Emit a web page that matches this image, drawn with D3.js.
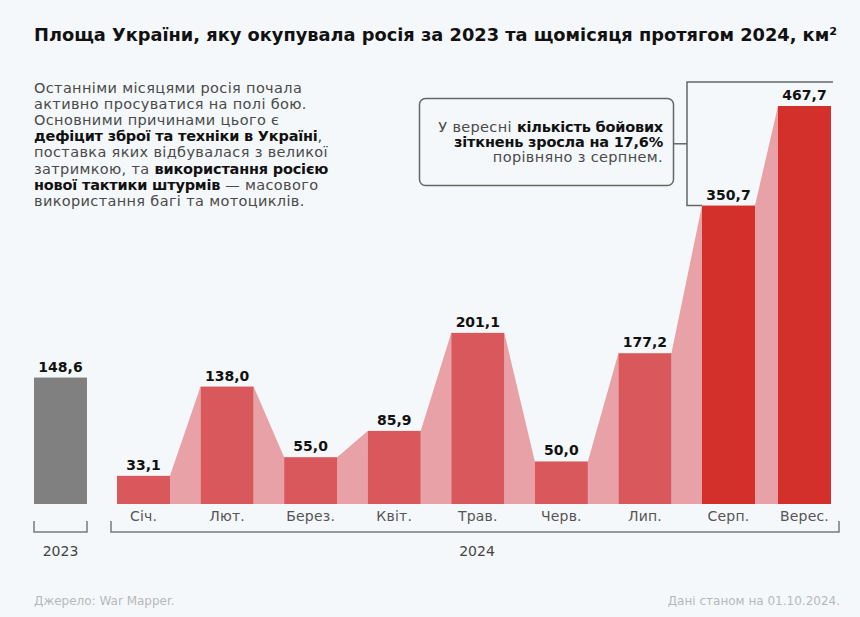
<!DOCTYPE html>
<html><head><meta charset="utf-8">
<script src="https://cdn.jsdelivr.net/npm/d3@7"></script>
<style>
html,body{margin:0;padding:0;background:#f5f8fa;}
svg{display:block;font-family:"DejaVu Sans","Noto Sans",sans-serif;}
</style></head>
<body>
<svg id="c" width="860" height="617"></svg>
<script>
const titleText = "Площа України, яку окупувала росія за 2023 та щомісяця протягом 2024, км²";
const prevYearLabel = "2023";
const prevYearValue = 148.6;
const yearLabel = "2024";
const months = ["Січ.","Лют.","Берез.","Квіт.","Трав.","Черв.","Лип.","Серп.","Верес."];
const values = [33.1,138.0,55.0,85.9,201.1,50.0,177.2,350.7,467.7];
const highlighted = ["Серп.","Верес."];
const introLines = [
  [["Останніми місяцями росія почала",false]],
  [["активно просуватися на полі бою.",false]],
  [["Основними причинами цього є",false]],
  [["дефіцит зброї та техніки в Україні",true],[",",false]],
  [["поставка яких відбувалася з великої",false]],
  [["затримкою, та ",false],["використання росією",true]],
  [["нової тактики штурмів",true],[" — масового",false]],
  [["використання багі та мотоциклів.",false]]
];
const calloutLines = [
  [["У вересні ",false],["кількість бойових",true]],
  [["зіткнень зросла на 17,6%",true]],
  [["порівняно з серпнем.",false]]
];
const sourceText = "Джерело: War Mapper.";
const dateText = "Дані станом на 01.10.2024.";

const fmt = v => v.toFixed(1).replace(".", ",");
const svg = d3.select("#c");
svg.append("rect").attr("width",860).attr("height",617).attr("fill","#f5f8fa");

const base = 504;
const bw = 53;
const y = d3.scaleLinear().domain([0, 467.7]).range([base, 106]);
// piecewise scale: last two months sit a little closer together
const xi = d3.scaleLinear().domain([0, months.length-2, months.length-1]).range([117, 702, 778]);
const x = m => xi(months.indexOf(m));
const x0 = d3.scaleBand().domain([prevYearLabel]).range([34, 87]);

// Title
svg.append("text").attr("x",34).attr("y",41)
  .attr("font-size",18).attr("font-weight","bold").attr("fill","#111")
  .attr("textLength",803).attr("lengthAdjust","spacingAndGlyphs")
  .text(titleText);

function richLines(sel, lines, xpos, y0, lh) {
  lines.forEach((line,i) => {
    const t = sel.append("tspan").attr("x",xpos).attr("y",y0 + i*lh);
    line.forEach(([s,b],j) => {
      const sp = j===0 ? t : sel.append("tspan");
      sp.text(s).attr("letter-spacing", b ? -0.2 : 0.35);
      if (b) sp.attr("font-weight","bold").attr("fill","#111");
    });
  });
}

// Intro paragraph
const intro = svg.append("text").attr("font-size",14.5).attr("fill","#4a4a4a");
richLines(intro, introLines, 34, 93, 16.1);

// Connectors
const conn = d3.range(months.length-1).map(i => [
  [x(months[i])+bw, base],[x(months[i])+bw, y(values[i])],
  [x(months[i+1]), y(values[i+1])],[x(months[i+1]), base]
]);
svg.append("g").selectAll("path").data(conn).join("path")
  .attr("d", d => d3.line()(d) + "Z").attr("fill","#e8a1a6");

// Bars
svg.append("rect").attr("x",x0(prevYearLabel)).attr("width",x0.bandwidth())
  .attr("y",y(prevYearValue)).attr("height",base-y(prevYearValue)).attr("fill","#808080");
svg.append("g").selectAll("rect").data(months).join("rect")
  .attr("x", m => x(m)).attr("width", bw)
  .attr("y", (m,i) => y(values[i])).attr("height", (m,i) => base - y(values[i]))
  .attr("fill", m => highlighted.includes(m) ? "#d32f2b" : "#d9585c");

// Value labels
const lab = svg.append("g").attr("font-size",14).attr("font-weight","bold").attr("fill","#111").attr("text-anchor","middle");
lab.append("text").attr("x",x0(prevYearLabel)+x0.bandwidth()/2).attr("y",y(prevYearValue)-6).text(fmt(prevYearValue));
lab.selectAll("text.v").data(months).join("text").attr("class","v")
  .attr("x", m => x(m)+bw/2).attr("y",(m,i)=>y(values[i])-6).text((m,i)=>fmt(values[i]));

// Month labels
svg.append("g").attr("font-size",14).attr("letter-spacing",0.2).attr("fill","#555").attr("text-anchor","middle")
  .selectAll("text").data(months).join("text")
  .attr("x", m => x(m)+bw/2).attr("y",521).text(m=>m);

// Brackets
const br = svg.append("g").attr("fill","none").attr("stroke","#7a7a7a").attr("stroke-width",1.5);
const bracket = (a,b) => `M${a},521V532H${b}V521`;
br.append("path").attr("d", bracket(34, 87));
br.append("path").attr("d", bracket(111, 839));
svg.append("g").attr("font-size",14).attr("fill","#444").attr("text-anchor","middle")
  .call(g => {
    g.append("text").attr("x",60.5).attr("y",556).text(prevYearLabel);
    g.append("text").attr("x",477).attr("y",556).text(yearLabel);
  });

// Callout
const bx = x(months[7]) - 15;
const yt = y(values[8]) - 24, yb = y(values[7]);
const cg = svg.append("g").attr("fill","none").attr("stroke","#666").attr("stroke-width",1.5);
cg.append("rect").attr("x",419.5).attr("y",98.5).attr("width",254).attr("height",87).attr("rx",6);
cg.append("path").attr("d",`M${x(months[8])+bw+2},${yt}H${bx}V${yb}H${x(months[7])}`);
cg.append("path").attr("d",`M673.5,${(yt+yb)/2}H${bx}`);
const ct = svg.append("text").attr("font-size",14.5).attr("fill","#4a4a4a").attr("text-anchor","end");
richLines(ct, calloutLines, 663, 132, 15.2);

// Footer
svg.append("text").attr("x",34).attr("y",605).attr("font-size",12).attr("fill","#b5b8bb").text(sourceText);
svg.append("text").attr("x",840).attr("y",605).attr("font-size",12).attr("fill","#b5b8bb").attr("text-anchor","end").text(dateText);
</script>
</body></html>
